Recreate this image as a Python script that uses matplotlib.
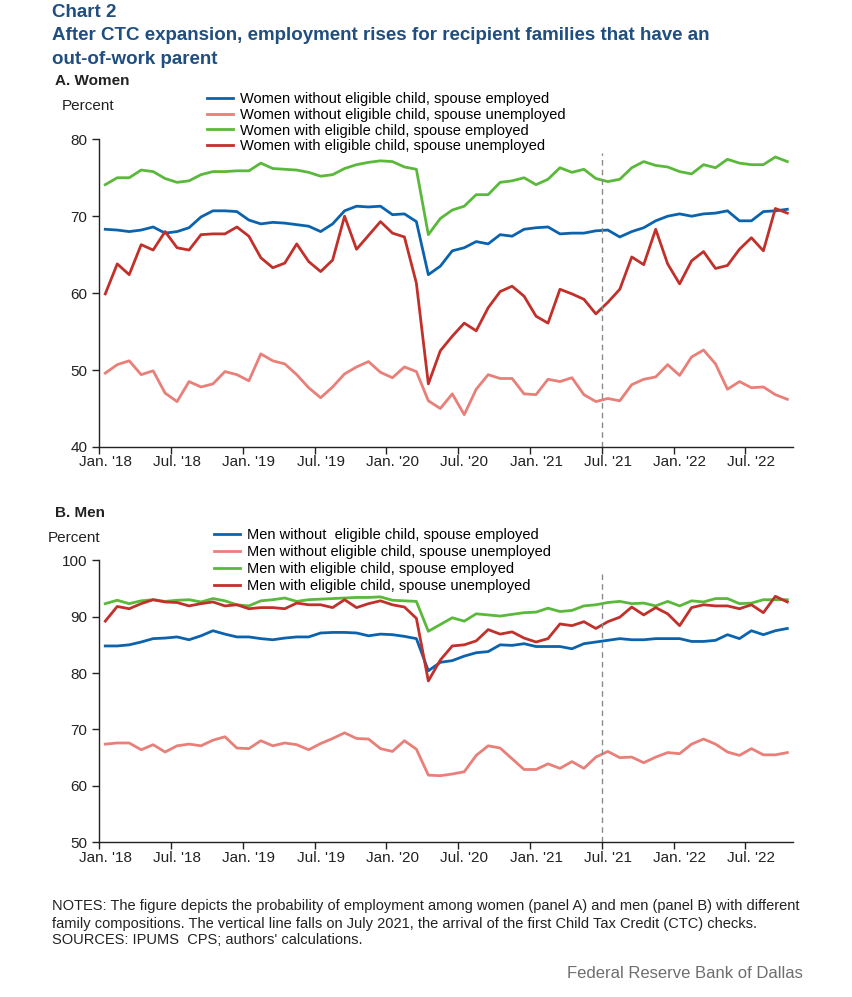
import matplotlib
matplotlib.use("Agg")
import matplotlib.pyplot as plt
import numpy as np

# monthly, Jan 2018 - Oct 2022
months = 58
tick_labels = ["Jan. '18", "Jul. '18", "Jan. '19", "Jul. '19", "Jan. '20", "Jul. '20",
               "Jan. '21", "Jul. '21", "Jan. '22", "Jul. '22"]

women_no_child_emp = [68.3, 68.2, 68.0, 68.2, 68.6, 67.8, 68.0, 68.5, 69.9, 70.7, 70.7, 70.6, 69.5, 69.0,
                      69.2, 69.1, 68.9, 68.7, 68.0, 69.0, 70.7, 71.3, 71.2, 71.3, 70.2, 70.3, 69.3, 62.4,
                      63.5, 65.5, 65.9, 66.7, 66.4, 67.6, 67.4, 68.3, 68.5, 68.6, 67.7, 67.8, 67.8, 68.1,
                      68.2, 67.3, 68.0, 68.5, 69.4, 70.0, 70.3, 70.0, 70.3, 70.4, 70.7, 69.4, 69.4, 70.6,
                      70.7, 70.9]
women_no_child_unemp = [49.6, 50.7, 51.2, 49.4, 49.9, 47.0, 45.9, 48.5, 47.8, 48.2, 49.8, 49.4, 48.6, 52.1,
                        51.2, 50.8, 49.4, 47.7, 46.4, 47.8, 49.5, 50.4, 51.1, 49.7, 49.0, 50.4, 49.8, 46.0,
                        45.0, 46.9, 44.2, 47.5, 49.4, 48.9, 48.9, 46.9, 46.8, 48.8, 48.5, 49.0, 46.8, 45.9,
                        46.3, 46.0, 48.1, 48.8, 49.1, 50.7, 49.3, 51.7, 52.6, 50.8, 47.5, 48.5, 47.7, 47.8,
                        46.8, 46.2]
women_child_emp = [74.1, 75.0, 75.0, 76.0, 75.8, 74.9, 74.4, 74.6, 75.4, 75.8, 75.8, 75.9, 75.9, 76.9,
                   76.2, 76.1, 76.0, 75.7, 75.2, 75.4, 76.2, 76.7, 77.0, 77.2, 77.1, 76.4, 76.1, 67.6,
                   69.7, 70.8, 71.3, 72.8, 72.8, 74.4, 74.6, 75.0, 74.1, 74.8, 76.3, 75.7, 76.1, 74.9,
                   74.5, 74.8, 76.3, 77.1, 76.6, 76.4, 75.8, 75.5, 76.7, 76.3, 77.4, 76.9, 76.7, 76.7,
                   77.7, 77.1]
women_child_unemp = [59.9, 63.8, 62.4, 66.3, 65.6, 68.0, 65.9, 65.6, 67.6, 67.7, 67.7, 68.6, 67.4, 64.6,
                     63.3, 63.9, 66.4, 64.1, 62.8, 64.3, 70.0, 65.7, 67.5, 69.3, 67.8, 67.3, 61.3, 48.2,
                     52.5, 54.4, 56.1, 55.1, 58.1, 60.2, 60.9, 59.6, 57.0, 56.1, 60.5, 59.9, 59.2, 57.3,
                     58.8, 60.5, 64.7, 63.7, 68.3, 63.8, 61.2, 64.2, 65.4, 63.2, 63.6, 65.7, 67.2, 65.5,
                     71.0, 70.4]

men_no_child_emp = [84.8, 84.8, 85.0, 85.5, 86.1, 86.2, 86.4, 85.9, 86.6, 87.5, 86.9, 86.4, 86.4, 86.1,
                    85.9, 86.2, 86.4, 86.4, 87.1, 87.2, 87.2, 87.1, 86.6, 86.9, 86.8, 86.5, 86.1, 80.4,
                    81.9, 82.2, 83.0, 83.6, 83.8, 85.0, 84.9, 85.2, 84.7, 84.7, 84.7, 84.3, 85.2, 85.5,
                    85.8, 86.1, 85.9, 85.9, 86.1, 86.1, 86.1, 85.6, 85.6, 85.8, 86.8, 86.1, 87.5, 86.8,
                    87.5, 87.9]
men_no_child_unemp = [67.4, 67.6, 67.6, 66.4, 67.3, 66.0, 67.1, 67.4, 67.1, 68.1, 68.7, 66.7, 66.6, 68.0,
                      67.1, 67.6, 67.3, 66.4, 67.5, 68.4, 69.4, 68.4, 68.3, 66.6, 66.1, 68.0, 66.5, 61.9,
                      61.8, 62.1, 62.5, 65.4, 67.1, 66.7, 64.8, 62.9, 62.9, 63.9, 63.1, 64.3, 63.1, 65.1,
                      66.1, 65.0, 65.1, 64.1, 65.1, 65.9, 65.7, 67.4, 68.3, 67.4, 66.0, 65.4, 66.6, 65.5,
                      65.5, 65.9]
men_child_emp = [92.3, 92.9, 92.3, 92.8, 93.0, 92.7, 92.9, 93.0, 92.6, 93.2, 92.8, 92.1, 91.9, 92.8,
                 93.0, 93.3, 92.7, 93.0, 93.1, 93.2, 93.3, 93.4, 93.4, 93.5, 92.9, 92.8, 92.7, 87.4,
                 88.6, 89.8, 89.2, 90.5, 90.3, 90.1, 90.4, 90.7, 90.8, 91.5, 90.9, 91.1, 91.9, 92.1,
                 92.5, 92.7, 92.3, 92.4, 91.9, 92.7, 91.9, 92.8, 92.6, 93.2, 93.2, 92.3, 92.4, 93.0,
                 93.0, 93.0]
men_child_unemp = [89.2, 91.8, 91.4, 92.3, 93.0, 92.6, 92.5, 91.9, 92.3, 92.6, 91.9, 92.1, 91.4, 91.6,
                   91.6, 91.4, 92.4, 92.1, 92.1, 91.6, 93.0, 91.6, 92.3, 92.8, 92.1, 91.7, 89.7, 78.6,
                   82.3, 84.8, 85.0, 85.7, 87.7, 86.9, 87.3, 86.2, 85.5, 86.1, 88.7, 88.4, 89.1, 87.9,
                   89.1, 89.9, 91.7, 90.3, 91.6, 90.5, 88.4, 91.6, 92.1, 91.9, 91.9, 91.4, 92.1, 90.7,
                   93.6, 92.6]

women_labels = ["Women without eligible child, spouse employed",
                "Women without eligible child, spouse unemployed",
                "Women with eligible child, spouse employed",
                "Women with eligible child, spouse unemployed"]
men_labels = ["Men without  eligible child, spouse employed",
              "Men without eligible child, spouse unemployed",
              "Men with eligible child, spouse employed",
              "Men with eligible child, spouse unemployed"]
colors = ["#0b63ae", "#e97f79", "#5ab93b", "#c1302b"]

plt.rcParams["font.family"] = ["Liberation Sans", "DejaVu Sans"]
title_blue = "#1f4e80"

fig = plt.figure(figsize=(8.53, 9.97), dpi=100)

x = np.arange(months)


def draw_panel(rect, series, labels, ylim, yticks, vline_top, leg_anchor, leg_spacing):
    ax = fig.add_axes(rect)
    for vals, lab, c in zip(series, labels, colors):
        ax.plot(x, vals, color=c, lw=2.0, label=lab)
    ax.axvline(41.5, ymax=vline_top, color="#8a8a8a", lw=1.0, ls=(0, (4, 3)))
    ax.set_xlim(-0.5, months - 0.5)
    ax.set_ylim(*ylim)
    ax.set_yticks(yticks)
    ax.spines["top"].set_visible(False)
    ax.spines["right"].set_visible(False)
    for s in ("left", "bottom"):
        ax.spines[s].set_linewidth(1.0)
        ax.spines[s].set_color("#222222")
    # boundary ticks every 6 months, labels centred on the month
    ax.set_xticks(np.arange(-0.5, months - 1, 6))
    ax.set_xticklabels([])
    ax.set_xticks(np.arange(0, months, 6), minor=True)
    ax.set_xticklabels(tick_labels, minor=True)
    ax.tick_params(axis="x", which="major", length=5, width=1.0, direction="out", color="#222222")
    ax.tick_params(axis="x", which="minor", length=0, pad=6, labelsize=11, labelcolor="#222222")
    ax.tick_params(axis="y", length=5, width=1.0, direction="out", labelsize=11,
                   labelcolor="#222222", color="#222222")
    ax.legend(loc="upper left", bbox_to_anchor=leg_anchor, bbox_transform=fig.transFigure,
              frameon=False, fontsize=10.5, handlelength=1.8, handletextpad=0.45,
              labelspacing=leg_spacing, borderpad=0, borderaxespad=0)
    return ax


ax1 = draw_panel([0.1164, 0.5517, 0.8136, 0.3086],
                 [women_no_child_emp, women_no_child_unemp, women_child_emp, women_child_unemp],
                 women_labels, (40, 80), [40, 50, 60, 70, 80], 0.955,
                 (207 / 853, 1 - 92 / 997), 0.12)
ax2 = draw_panel([0.1164, 0.1552, 0.8136, 0.2829],
                 [men_no_child_emp, men_no_child_unemp, men_child_emp, men_child_unemp],
                 men_labels, (50, 100), [50, 60, 70, 80, 90, 100], 0.955,
                 (214 / 853, 1 - 528 / 997), 0.2)

# titles
fig.text(52 / 853, 1 - 4 / 997, "Chart 2", color=title_blue, fontsize=13.5, weight="bold", va="top")
fig.text(52 / 853, 1 - 27 / 997, "After CTC expansion, employment rises for recipient families that have an",
         color=title_blue, fontsize=13.5, weight="bold", va="top")
fig.text(52 / 853, 1 - 51 / 997, "out-of-work parent", color=title_blue, fontsize=13.5, weight="bold", va="top")
fig.text(55 / 853, 1 - 74 / 997, "A. Women", color="#222222", fontsize=11, weight="bold", va="top")
fig.text(62 / 853, 1 - 99 / 997, "Percent", color="#222222", fontsize=11, va="top")
fig.text(55 / 853, 1 - 506 / 997, "B. Men", color="#222222", fontsize=11, weight="bold", va="top")
fig.text(48 / 853, 1 - 531 / 997, "Percent", color="#222222", fontsize=11, va="top")

notes = ("NOTES: The figure depicts the probability of employment among women (panel A) and men (panel B) with different\n"
         "family compositions. The vertical line falls on July 2021, the arrival of the first Child Tax Credit (CTC) checks.")
fig.text(52 / 853, 1 - 899 / 997, notes, fontsize=10.5, color="#222222", va="top", linespacing=1.35)
fig.text(52 / 853, 1 - 933 / 997, "SOURCES: IPUMS  CPS; authors' calculations.", fontsize=10.5,
         color="#222222", va="top")
fig.text(803 / 853, 1 - 966 / 997, "Federal Reserve Bank of Dallas", fontsize=12, color="#6e6e6e",
         va="top", ha="right")

fig.savefig("out.png", dpi=100)
